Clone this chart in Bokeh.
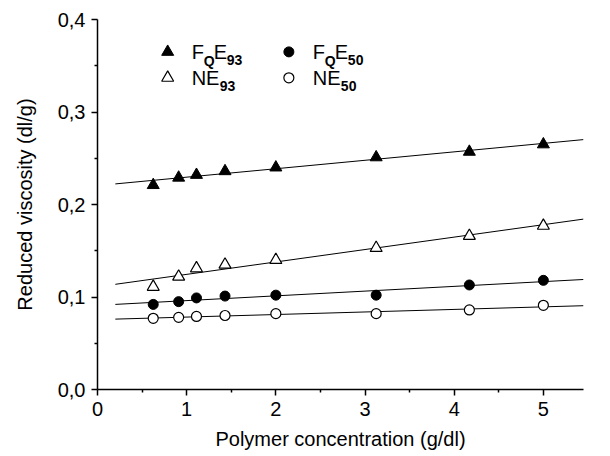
import numpy as np
from bokeh.plotting import figure
from bokeh.models import FixedTicker, CustomJSTickFormatter, Label, Range1d
from bokeh.embed import file_html
from bokeh.resources import INLINE

# ---- data ----
conc = [0.625, 0.91, 1.11, 1.43, 2.0, 3.125, 4.17, 5.0]
fqe93 = [0.221, 0.229, 0.232, 0.236, 0.240, 0.251, 0.257, 0.265]
ne93 = [0.111, 0.122, 0.131, 0.135, 0.140, 0.153, 0.166, 0.177]
fqe50 = [0.092, 0.095, 0.099, 0.101, 0.102, 0.102, 0.113, 0.118]
ne50 = [0.077, 0.078, 0.079, 0.080, 0.082, 0.082, 0.086, 0.091]
fit_x = [0.2, 5.45]
x_ticks = [0, 1, 2, 3, 4, 5]
x_minor = [0.5, 1.5, 2.5, 3.5, 4.5]
y_ticks = [0.0, 0.1, 0.2, 0.3, 0.4]
y_minor = [0.05, 0.15, 0.25, 0.35]

FONT = "Liberation Sans"

p = figure(width=610, height=456, output_backend="svg", toolbar_location=None,
           x_range=Range1d(0, 5.45), y_range=Range1d(0, 0.4),
           min_border_left=97, min_border_right=27, min_border_top=19, min_border_bottom=67)
p.outline_line_color = None
p.grid.grid_line_color = None
p.background_fill_color = "white"

for ax in (p.xaxis[0], p.yaxis[0]):
    ax.axis_line_width = 1.5
    ax.axis_line_color = "black"
    ax.major_tick_in = 0
    ax.major_tick_out = 6
    ax.minor_tick_in = 0
    ax.minor_tick_out = 3
    ax.major_tick_line_width = 1.5
    ax.minor_tick_line_width = 1.5
    ax.major_label_text_font = FONT
    ax.major_label_text_font_size = "20px"
    ax.major_label_text_color = "black"
    ax.axis_label_text_font = FONT
    ax.axis_label_text_font_size = "20px"
    ax.axis_label_text_font_style = "normal"
    ax.axis_label_text_color = "black"

p.xaxis.ticker = FixedTicker(ticks=x_ticks, minor_ticks=x_minor)
p.yaxis.ticker = FixedTicker(ticks=y_ticks, minor_ticks=y_minor)
p.xaxis.formatter = CustomJSTickFormatter(code="return tick.toFixed(0);")
p.yaxis.formatter = CustomJSTickFormatter(code="return tick.toFixed(1).replace('.', ',');")
p.xaxis.axis_label = "Polymer concentration (g/dl)"
p.yaxis.axis_label = "Reduced viscosity (dl/g)"
p.xaxis.major_label_standoff = 6
p.xaxis.axis_label_standoff = 9
p.yaxis.major_label_standoff = 6
p.yaxis.axis_label_standoff = 19

# ---- fit lines (linear regression of each series) ----
fx = np.array(fit_x)
for ys in (fqe93, ne93, fqe50, ne50):
    k, b = np.polyfit(conc, ys, 1)
    p.line(fx, k * fx + b, line_color="black", line_width=1)

# ---- markers ----
p.scatter(conc, fqe93, marker="triangle", size=12, fill_color="black", line_color="black")
p.scatter(conc, ne93, marker="triangle", size=12, fill_color="white", line_color="black", line_width=1.2)
p.scatter(conc, fqe50, marker="circle", size=10, fill_color="black", line_color="black")
p.scatter(conc, ne50, marker="circle", size=10, fill_color="white", line_color="black", line_width=1.2)

# ---- hand-made legend with subscripts ----
leg_col_x = [0.787, 2.146]
leg_row_y = [0.365, 0.337]
p.scatter([leg_col_x[0]], [leg_row_y[0]], marker="triangle", size=12, fill_color="black", line_color="black")
p.scatter([leg_col_x[0]], [leg_row_y[1]], marker="triangle", size=12, fill_color="white", line_color="black", line_width=1.2)
p.scatter([leg_col_x[1]], [leg_row_y[0]], marker="circle", size=10, fill_color="black", line_color="black")
p.scatter([leg_col_x[1]], [leg_row_y[1]], marker="circle", size=10, fill_color="white", line_color="black", line_width=1.2)

def add_label(x, y, parts):
    # parts: list of (text, x_offset, y_offset, size, bold)
    for t, dx, dy, sz, bold in parts:
        p.add_layout(Label(x=x, y=y, x_offset=dx, y_offset=dy, text=t,
                           text_font=FONT, text_font_size=sz,
                           text_font_style="bold" if bold else "normal",
                           text_baseline="middle", text_align="left", text_color="black"))

tx0 = 24
add_label(leg_col_x[0], leg_row_y[0], [("F", tx0, 0, "20px", False), ("Q", tx0 + 12, -9, "14px", True),
                                        ("E", tx0 + 22, 0, "20px", False), ("93", tx0 + 35, -8, "14px", True)])
add_label(leg_col_x[0], leg_row_y[1], [("NE", tx0, 0, "20px", False), ("93", tx0 + 28, -8, "14px", True)])
add_label(leg_col_x[1], leg_row_y[0], [("F", tx0, 0, "20px", False), ("Q", tx0 + 12, -9, "14px", True),
                                        ("E", tx0 + 22, 0, "20px", False), ("50", tx0 + 35, -8, "14px", True)])
add_label(leg_col_x[1], leg_row_y[1], [("NE", tx0, 0, "20px", False), ("50", tx0 + 28, -8, "14px", True)])

open("out.html", "w").write(file_html(p, INLINE))
